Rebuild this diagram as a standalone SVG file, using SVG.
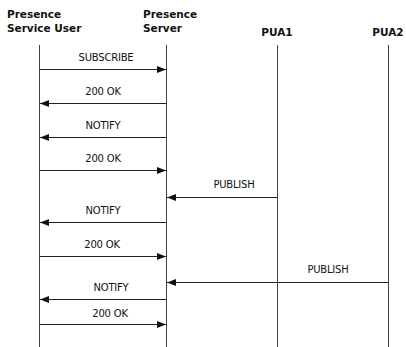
<svg xmlns="http://www.w3.org/2000/svg" width="406" height="347" viewBox="0 0 406 347">
<style>
.hdr{font-family:"DejaVu Sans","Liberation Sans",sans-serif;font-weight:bold;font-size:10.5px;fill:#111}
.lbl{font-family:"DejaVu Sans","Liberation Sans",sans-serif;font-size:10px;fill:#111;text-anchor:middle;letter-spacing:-0.2px}
.life{stroke:#444;stroke-width:1}
.msg{stroke:#222;stroke-width:1;fill:none;marker-end:url(#ah)}
</style>
<defs>
<marker id="ah" markerWidth="9" markerHeight="7" refX="9" refY="3.5" orient="auto" markerUnits="userSpaceOnUse">
<path d="M0,0 L9,3.5 L0,7 Z" fill="#111"/>
</marker>
</defs>
<rect width="406" height="347" fill="#fff"/>
<g id="user">
<text class="hdr" x="7" y="18">Presence</text>
<text class="hdr" x="7" y="32">Service User</text>
<line class="life" x1="39.5" y1="45" x2="39.5" y2="347"/>
</g>
<g id="server">
<text class="hdr" x="143" y="18">Presence</text>
<text class="hdr" x="143" y="32">Server</text>
<line class="life" x1="166.5" y1="45" x2="166.5" y2="347"/>
</g>
<g id="pua1">
<text class="hdr" x="277" y="36" text-anchor="middle">PUA1</text>
<line class="life" x1="277.5" y1="45" x2="277.5" y2="347"/>
</g>
<g id="pua2">
<text class="hdr" x="388" y="36" text-anchor="middle">PUA2</text>
<line class="life" x1="388.5" y1="45" x2="388.5" y2="347"/>
</g>
<g id="connectors">
<line class="msg" x1="39.5" y1="69.5" x2="166" y2="69.5"/>
<text class="lbl" x="106" y="61">SUBSCRIBE</text>
<line class="msg" x1="166" y1="103.5" x2="40" y2="103.5"/>
<text class="lbl" x="103" y="95">200 OK</text>
<line class="msg" x1="166" y1="137.5" x2="40" y2="137.5"/>
<text class="lbl" x="103" y="129">NOTIFY</text>
<line class="msg" x1="39.5" y1="170.5" x2="166" y2="170.5"/>
<text class="lbl" x="103" y="162">200 OK</text>
<line class="msg" x1="277" y1="197.5" x2="167" y2="197.5"/>
<text class="lbl" x="234" y="188">PUBLISH</text>
<line class="msg" x1="166" y1="222.5" x2="40" y2="222.5"/>
<text class="lbl" x="103" y="214">NOTIFY</text>
<line class="msg" x1="39.5" y1="256.5" x2="166" y2="256.5"/>
<text class="lbl" x="102" y="248">200 OK</text>
<line class="msg" x1="388" y1="282.5" x2="167" y2="282.5"/>
<text class="lbl" x="328" y="273">PUBLISH</text>
<line class="msg" x1="166" y1="299.5" x2="40" y2="299.5"/>
<text class="lbl" x="111" y="291">NOTIFY</text>
<line class="msg" x1="39.5" y1="324.5" x2="166" y2="324.5"/>
<text class="lbl" x="110" y="317">200 OK</text>
</g>
</svg>
